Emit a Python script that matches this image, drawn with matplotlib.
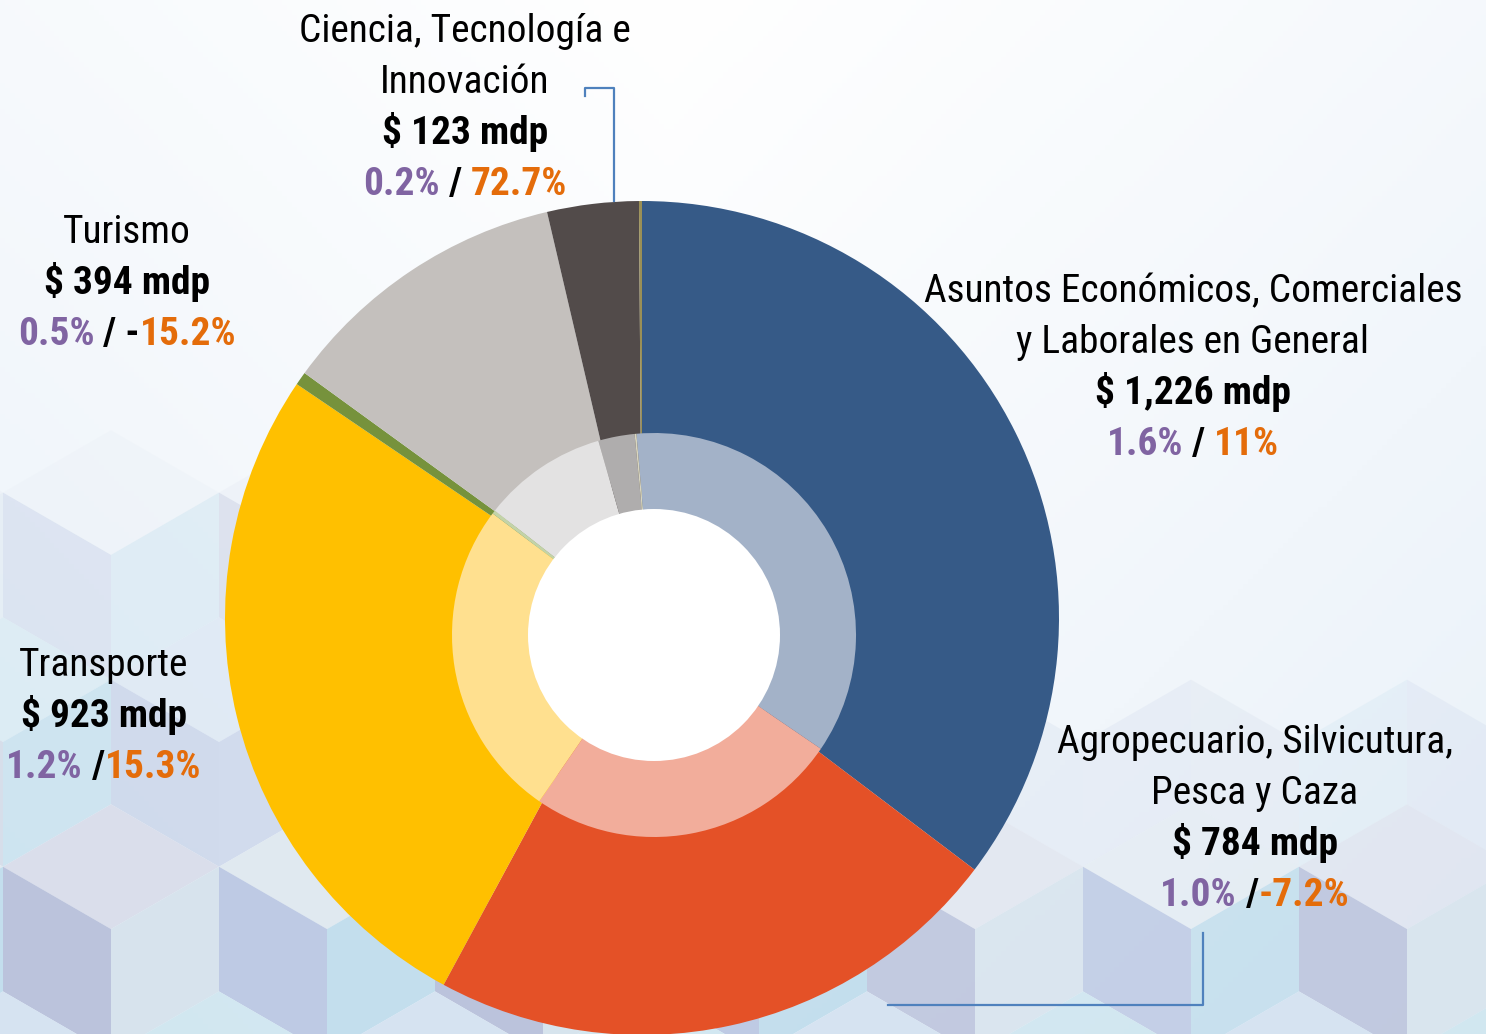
import numpy as np
import matplotlib.pyplot as plt
from matplotlib.patches import Polygon, Circle

W, H = 1486, 1034

# outer ring, clockwise from 12 o'clock (mdp)
outer_names = ["Asuntos Económicos", "Agropecuario", "Transporte", "Otros",
               "Turismo", "Ciencia, Tecnología e Innovación", "Resto"]
outer_values = [1226, 784, 923, 18, 394, 123, 4]
outer_colors = ["#365a87", "#e45127", "#ffc000", "#76923c",
                "#c4c0bd", "#524b4a", "#9a8f55"]

# inner ring
inner_values = [1247, 871, 891, 10, 347, 101, 5]
inner_colors = ["#a3b2c8", "#f2ad9b", "#ffe08f", "#c3d3a8",
                "#e3e2e2", "#afadad", "#d9d6c0"]

# labels
label_titles = [["Asuntos Económicos, Comerciales", "y Laborales en General"],
                ["Agropecuario, Silvicutura,", "Pesca y Caza"],
                ["Transporte"],
                ["Turismo"],
                ["Ciencia, Tecnología e", "Innovación"]]
label_amounts = ["$ 1,226 mdp", "$ 784 mdp", "$ 923 mdp", "$ 394 mdp", "$ 123 mdp"]
label_shares = ["1.6%", "1.0%", "1.2%", "0.5%", "0.2%"]
label_seps = [" / ", " /", " /", " / -", " / "]
label_changes = ["11%", "-7.2%", "15.3%", "15.2%", "72.7%"]

PURPLE = "#8064a2"
ORANGE = "#e46c0a"
FONT = ["Roboto Condensed", "Liberation Sans Narrow", "Roboto", "DejaVu Sans"]

fig = plt.figure(figsize=(W / 100, H / 100), dpi=100)
ax = fig.add_axes([0, 0, 1, 1])

# background gradient
yy, xx = np.mgrid[0:1:200j, 0:1:300j]
k = np.clip(0.25 * np.abs(xx - 0.45) * 2 + 0.35 * yy, 0, 1)
edge = np.array([0.86, 0.91, 0.96])
grad = (1 - k[..., None]) * np.array([1.0, 1.0, 1.0]) + k[..., None] * edge
ax.imshow(grad, extent=(0, W, H, 0), aspect="auto", zorder=0)

# isometric cube pattern
w = 108
s = w / np.cos(np.radians(30))
tops = ["#d4e2f1", "#dfe8ef", "#cfe6f0", "#d8dcea"]
lefts = ["#b6bed9", "#c6d2e8", "#b9c6e2", "#cfd8e6"]
rights = ["#c4e0ee", "#d5e2ec", "#c8d3ea", "#bfdcec"]
for r in range(-4, 3):
    cy = 742 + 1.5 * s * r
    off = 219 if r % 2 == 0 else 111
    for c in range(-1, 8):
        cx = off + 2 * w * c
        top = (cx, cy - s)
        ur = (cx + w, cy - s / 2)
        lr = (cx + w, cy + s / 2)
        bot = (cx, cy + s)
        ll = (cx - w, cy + s / 2)
        ul = (cx - w, cy - s / 2)
        ctr = (cx, cy)
        idx = (r * 3 + c * 2) % 4
        faces = [([top, ur, ctr, ul], tops[idx]),
                 ([ul, ctr, bot, ll], lefts[(idx + 1) % 4]),
                 ([ctr, ur, lr, bot], rights[(idx + 2) % 4])]
        for pts, col in faces:
            fy = np.mean([p[1] for p in pts])
            fx = np.mean([p[0] for p in pts])
            a = np.clip((fy - 420) / 420, 0, 1) * 0.9
            if fx > 900:
                a = np.clip((fy - 700) / 300, 0, 1) * 0.9
            if a <= 0:
                continue
            ax.add_patch(Polygon(pts, closed=True, facecolor=col, edgecolor="none",
                                 alpha=a, zorder=1))

# donut (y axis is inverted, so counterclock=True draws clockwise on screen)
ax.pie(outer_values, colors=outer_colors, startangle=-90, counterclock=True,
       center=(642, 618), radius=417, frame=True,
       wedgeprops=dict(linewidth=0, zorder=3))
ax.pie(inner_values, colors=inner_colors, startangle=-95, counterclock=True,
       center=(654, 635), radius=202, frame=True,
       wedgeprops=dict(linewidth=0, zorder=4))
ax.add_patch(Circle((654, 635), 126, facecolor="white", edgecolor="none", zorder=5))

# leader lines
ax.plot([585, 585, 614, 614], [96, 88, 88, 201], color="#4f81bd", lw=1.6, zorder=6)
ax.plot([888, 1203, 1203], [1005, 1005, 933], color="#4f81bd", lw=1.6, zorder=6)

ax.set_xlim(0, W)
ax.set_ylim(H, 0)
ax.set_aspect("equal")
ax.axis("off")

# pick a font size so the widest title line is as wide as in the reference (539 px)
probe = ax.text(0, 0, label_titles[0][0], fontsize=29, family=FONT,
                fontstretch="condensed")
fig.canvas.draw()
FS = 29 * 539 / probe.get_window_extent(fig.canvas.get_renderer()).width
FS = min(FS, 29)
probe.remove()


def line(x, y, parts, weight):
    ts = [ax.text(x, y, txt, color=col, fontsize=FS, fontweight=weight,
                  family=FONT, fontstretch="condensed",
                  ha="left", va="baseline", zorder=7)
          for txt, col in parts]
    fig.canvas.draw()
    rend = fig.canvas.get_renderer()
    widths = [t.get_window_extent(rend).width for t in ts]
    x0 = x - sum(widths) / 2
    for t, wd in zip(ts, widths):
        t.set_x(x0)
        x0 += wd


# label anchors: centre x, baseline of first line
anchors = [(1193, 302), (1255, 753), (104, 676), (127, 243), (465, 42)]
gap = 51
for i, (x, y) in enumerate(anchors):
    n = 0
    for t in label_titles[i]:
        line(x, y + gap * n, [(t, "black")], "normal")
        n += 1
    line(x, y + gap * n, [(label_amounts[i], "black")], "bold")
    n += 1
    line(x, y + gap * n, [(label_shares[i], PURPLE), (label_seps[i], "black"),
                          (label_changes[i], ORANGE)], "bold")

fig.savefig("out.png", dpi=100)
